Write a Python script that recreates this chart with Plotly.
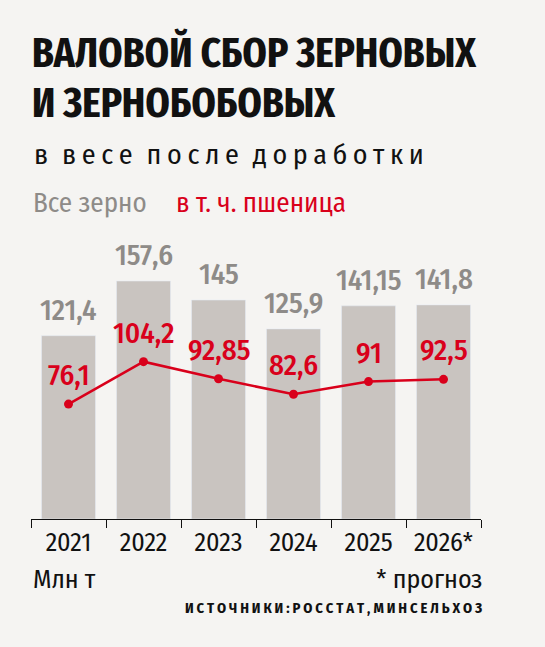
import plotly.graph_objects as go

years = ["2021", "2022", "2023", "2024", "2025", "2026*"]
all_grain = [121.4, 157.6, 145, 125.9, 141.15, 141.8]
wheat = [76.1, 104.2, 92.85, 82.6, 91, 92.5]
all_labels = ["121,4", "157,6", "145", "125,9", "141,15", "141,8"]
wheat_labels = ["76,1", "104,2", "92,85", "82,6", "91", "92,5"]

W, H = 545, 647
L, R, T, B = 31, 481, 230, 519  # plot area in pixels

BG = "#f5f4f2"
BAR = "#c9c4c0"
RED = "#d9001b"
GREY = "#8e8b88"
INK = "#111111"
FONT = "Fira Sans Condensed, Roboto Condensed, sans-serif"
TFONT = "Fira Sans Extra Condensed, Fira Sans Condensed, sans-serif"


def px(x):
    return (x - L) / (R - L)


def py(y):
    return (B - y) / (B - T)


def spaced(s, gap, word_gap):
    # fake letter spacing with thin spaces
    return word_gap.join(gap.join(w) for w in s.split(" "))


fig = go.Figure()
fig.add_trace(go.Bar(x=years, y=all_grain, marker_color=BAR, width=0.72,
                     hoverinfo="skip"))
fig.add_trace(go.Scatter(x=years, y=wheat, mode="lines+markers",
                         line=dict(color=RED, width=2.5),
                         marker=dict(color=RED, size=9), hoverinfo="skip"))

ann = []
for i, (v, t) in enumerate(zip(all_grain, all_labels)):
    ann.append(dict(x=i, y=v, text=t, showarrow=False, yanchor="bottom",
                    yshift=6, font=dict(family=FONT, size=29, color=GREY,
                                        weight=500)))
for i, (v, t) in enumerate(zip(wheat, wheat_labels)):
    ann.append(dict(x=i, y=v, text=t, showarrow=False, yanchor="bottom",
                    yshift=9, font=dict(family=FONT, size=29, color=RED,
                                         weight=500)))


def note(x, y, text, size, color=INK, anchor="left", weight=400, family=FONT):
    ann.append(dict(xref="paper", yref="paper", x=px(x), y=py(y), text=text,
                    showarrow=False, xanchor=anchor, yanchor="middle",
                    font=dict(family=family, size=size, color=color,
                              weight=weight)))


note(30, 53, "ВАЛОВОЙ СБОР ЗЕРНОВЫХ", 42.5, weight=700, family=TFONT)
note(30, 102, "И ЗЕРНОБОБОВЫХ", 42.5, weight=700, family=TFONT)
note(32, 154, spaced("в весе после доработки", "\u2009", "\u2002"), 28)
note(31, 203, "Все зерно", 27, color=GREY)
note(174, 203, "в т. ч. пшеница", 27, color=RED)
note(31, 579, "Млн т", 26)
note(485, 579, "* прогноз", 26, anchor="right")
note(484, 608, spaced("ИСТОЧНИКИ: РОССТАТ, МИНСЕЛЬХОЗ", "\u2009", " "),
     14.5, anchor="right", weight=700)

fig.update_layout(
    width=W, height=H, autosize=False,
    margin=dict(l=L, r=W - R, t=T, b=H - B),
    paper_bgcolor=BG, plot_bgcolor=BG,
    showlegend=False,
    annotations=ann,
    xaxis=dict(type="category", tickson="boundaries", ticks="outside",
               ticklen=8, tickwidth=1.3, tickcolor=INK, showline=True,
               linecolor=INK, linewidth=1.3, showgrid=False, tickangle=0,
               tickfont=dict(family=FONT, size=26, color=INK),
               range=[-0.5, 5.5], fixedrange=True),
    yaxis=dict(range=[0, 191.4], visible=False, fixedrange=True),
)

fig.write_html("out.html", config={"displayModeBar": False},
               post_script="document.body.style.margin='0';")
